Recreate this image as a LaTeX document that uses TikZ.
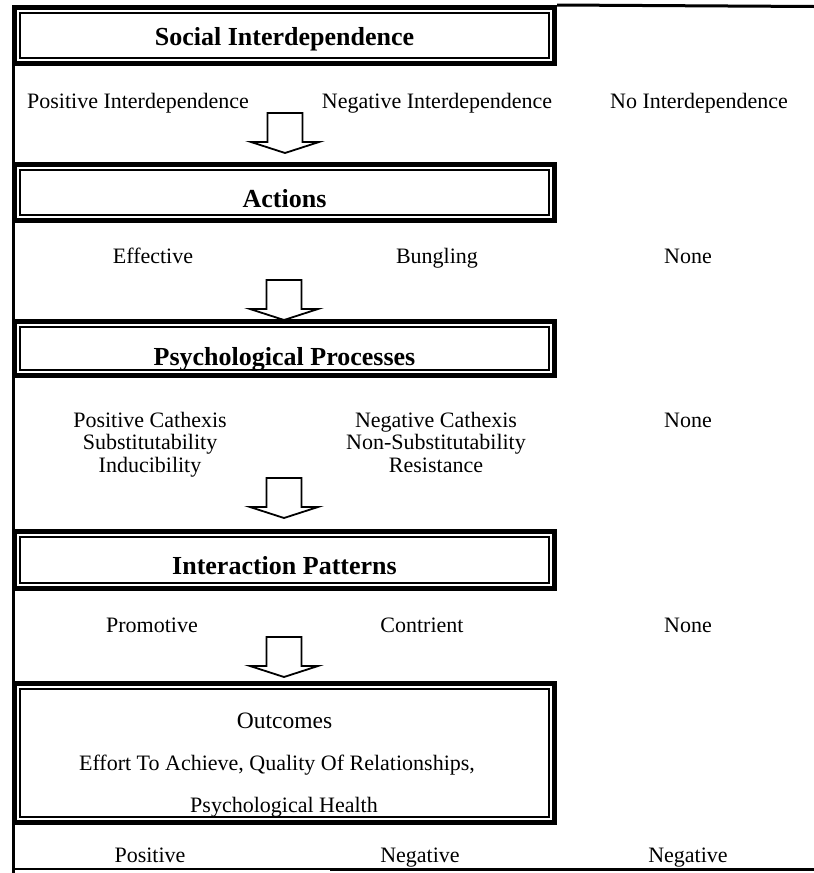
\documentclass[tikz,border=0pt]{standalone}
\usepackage{fontspec}
\setmainfont{Liberation Serif}
\begin{document}
\begin{tikzpicture}[x=1pt,y=-1pt,
  box/.style={draw, line width=5pt, minimum width=540pt, inner sep=0pt,
    path picture={\draw[line width=1.3pt]
      ([shift={(5.5pt,-5.5pt)}]path picture bounding box.north west) rectangle
      ([shift={(-5.5pt,5.5pt)}]path picture bounding box.south east);}},
  ttl/.style={font=\bfseries\fontsize{26}{29}\selectfont, inner sep=0pt, anchor=base},
  lbl/.style={font=\fontsize{22}{24}\selectfont, inner sep=0pt, anchor=base},
  barrow/.pic={\draw[line width=1.8pt, line join=miter, fill=white]
      (-17.5,-40) -- (17.5,-40) -- (17.5,-11) -- (34,-11) -- (0,0)
      -- (-34,-11) -- (-17.5,-11) -- cycle;},
  frame/.style={line width=2.5pt}
]
\useasboundingbox (0,0) rectangle (814,873);

% frame lines
\coordinate (lt) at (13.5,60);
\coordinate (lb) at (13.5,873);
\coordinate (tr) at (814,6.5);
\coordinate (bm) at (330,869);
\coordinate (br) at (814,869);
\draw[frame] (lt) -- (lb);
\draw[line width=1.2pt] (lb |- br) -- (bm);
\draw[line width=3pt] (bm) -- (br);

% boxes
\node[box, minimum height=56pt] (b1) at (284.5,35.5) {};
\draw[line width=3pt] (b1.north east) -- (tr);
\node[ttl] (t1) at (284.5,45) {Social Interdependence};

\node[lbl] (p1) at (138,108) {Positive Interdependence};
\node[lbl] (n1) at (437,108) {Negative Interdependence};
\node[lbl] (z1) at (699,108) {No Interdependence};

\coordinate (a1) at (285,153);
\pic at (a1) {barrow};

\node[box, minimum height=56pt] (b2) at (284.5,192.5) {};
\node[ttl] (t2) at (284.5,207) {Actions};

\node[lbl] (p2) at (153,263) {Effective};
\node[lbl] (n2) at (437,263) {Bungling};
\node[lbl] (z2) at (688,263) {None};

\coordinate (a2) at (284,320);
\pic at (a2) {barrow};

\node[box, minimum height=54pt] (b3) at (284.5,348.5) {};
\node[ttl] (t3) at (284.5,365) {Psychological Processes};

\node[lbl] (p3a) at (150,427) {Positive Cathexis};
\node[lbl] (p3b) at (150,449) {Substitutability};
\node[lbl] (p3c) at (150,472) {Inducibility};
\node[lbl] (n3a) at (436,427) {Negative Cathexis};
\node[lbl] (n3b) at (436,449) {Non-Substitutability};
\node[lbl] (n3c) at (436,472) {Resistance};
\node[lbl] (z3) at (688,427) {None};

\coordinate (a3) at (284,518);
\pic at (a3) {barrow};

\node[box, minimum height=57pt] (b4) at (284.5,560) {};
\node[ttl] (t4) at (284.5,574) {Interaction Patterns};

\node[lbl] (p4) at (152,632) {Promotive};
\node[lbl] (n4) at (422,632) {Contrient};
\node[lbl] (z4) at (688,632) {None};

\coordinate (a4) at (284,677);
\pic at (a4) {barrow};

\node[box, minimum height=139pt] (b5) at (284.5,753) {};
\node[lbl, font=\fontsize{23.5}{26}\selectfont] (t5) at (284.5,728) {Outcomes};
\node[lbl] (o1) at (277,770) {Effort To Achieve, Quality Of Relationships,};
\node[lbl] (o2) at (284,812) {Psychological Health};

\node[lbl] (p5) at (150,862) {Positive};
\node[lbl] (n5) at (420,862) {Negative};
\node[lbl] (z5) at (688,862) {Negative};
\end{tikzpicture}
\end{document}
